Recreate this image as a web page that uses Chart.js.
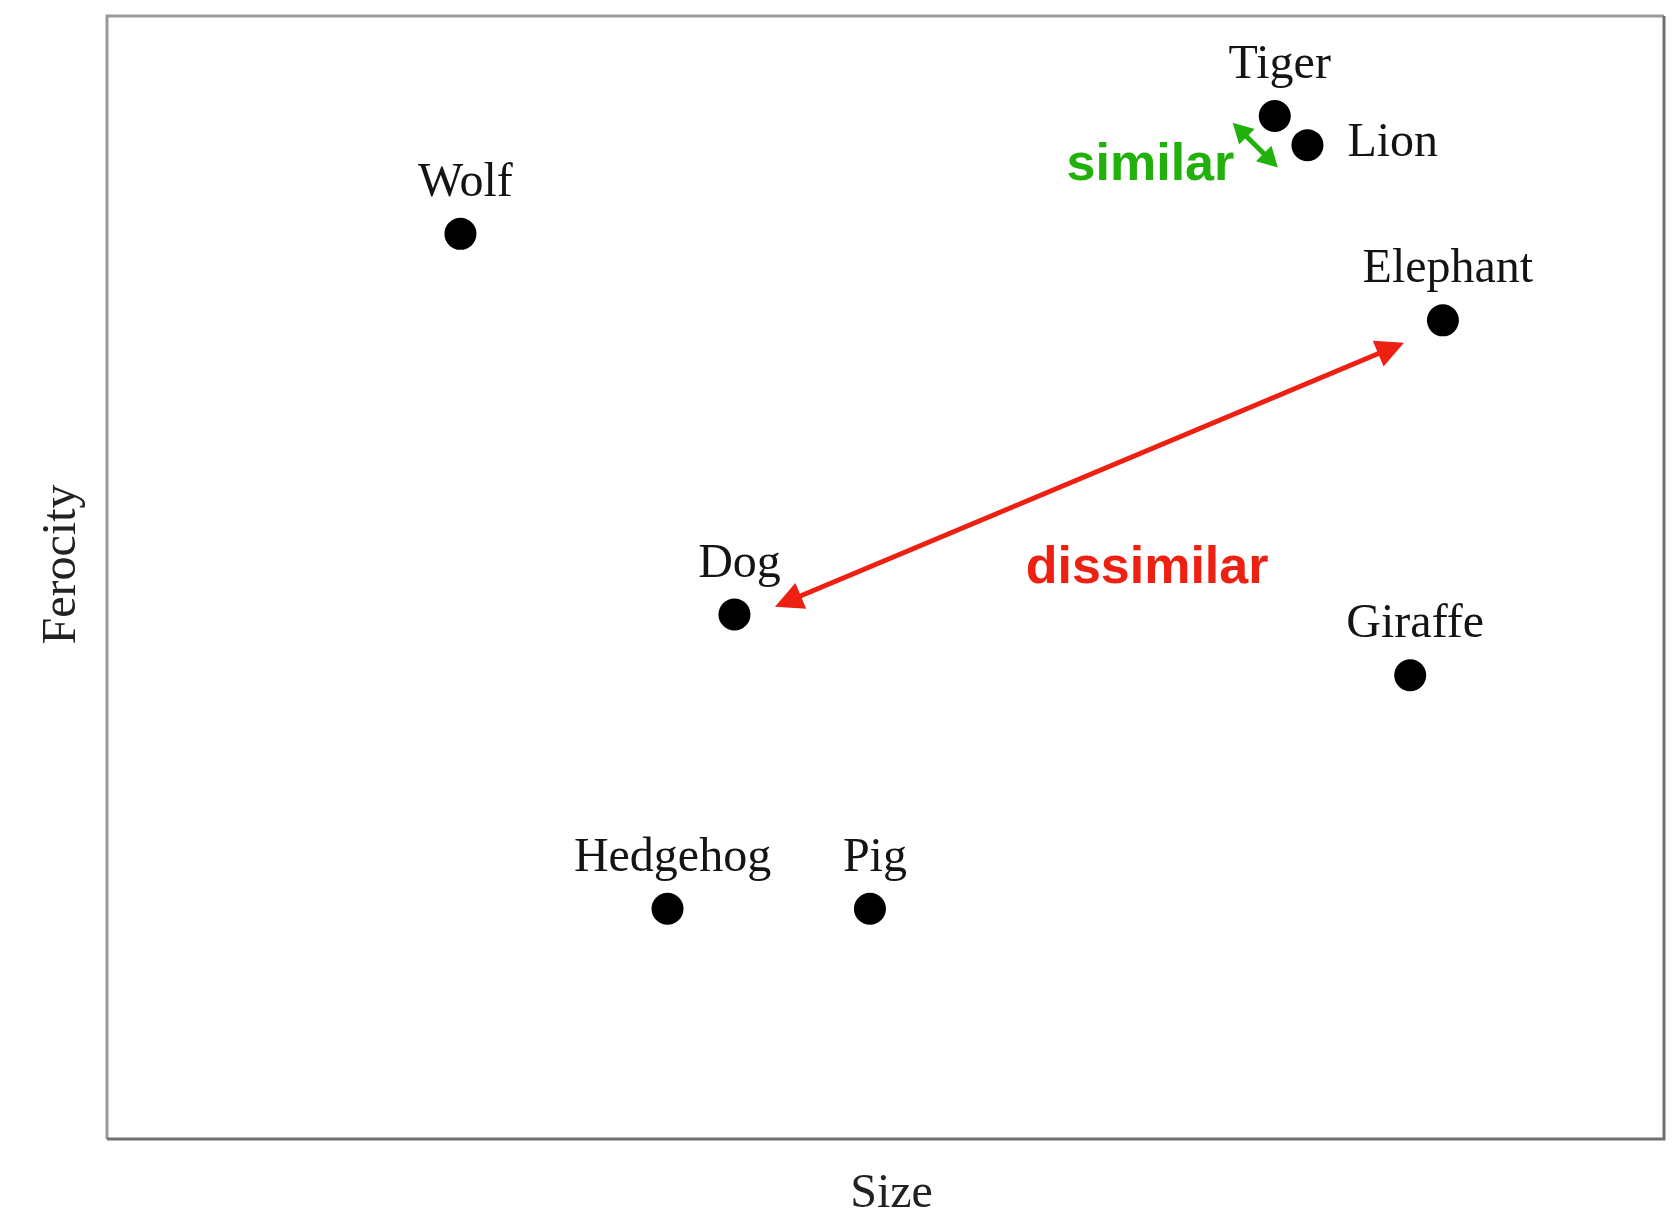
<!DOCTYPE html>
<html>
<head>
<meta charset="utf-8">
<script src="https://cdn.jsdelivr.net/npm/chart.js@4/dist/chart.umd.min.js"></script>
<style>
  html, body { margin: 0; padding: 0; background: #ffffff; }
  #wrap { width: 1680px; height: 1214px; }
</style>
</head>
<body>
<div id="wrap"><canvas id="chart" width="1680" height="1214"></canvas></div>
<script>
// Animals placed by size (x) and ferocity (y), both on a 0–100 scale
const animals   = ['Tiger', 'Lion', 'Wolf', 'Elephant', 'Dog', 'Giraffe', 'Hedgehog', 'Pig'];
const sizeVals  = [75.0, 77.1, 22.7, 85.8, 40.3, 83.7, 36.0, 49.0];
const ferocVals = [91.1, 88.5, 80.6, 72.9, 46.7, 41.3, 20.5, 20.5];
const labelSide = ['above', 'right', 'above', 'above', 'above', 'above', 'above', 'above'];

const axisTitleX = 'Size';
const axisTitleY = 'Ferocity';

// Comparison arrows, end points in data units
const similarArrow    = { from: [72.3, 90.5], to: [75.2, 86.5], text: 'similar',    textAt: [72.4, 85.4], color: '#22b00a' };
const dissimilarArrow = { from: [83.3, 70.9], to: [42.9, 47.4], text: 'dissimilar', textAt: [66.8, 49.5], color: '#ee2011' };

const points = sizeVals.map((x, i) => ({ x: x, y: ferocVals[i] }));

const SERIF = '"Liberation Serif", "DejaVu Serif", serif';
const SANS  = '"Liberation Sans", Arial, sans-serif';

function arrowHead(ctx, tx, ty, fx, fy, len, half) {
  const a = Math.atan2(ty - fy, tx - fx);
  ctx.beginPath();
  ctx.moveTo(tx, ty);
  ctx.lineTo(tx - len * Math.cos(a) + half * Math.sin(a), ty - len * Math.sin(a) - half * Math.cos(a));
  ctx.lineTo(tx - len * Math.cos(a) - half * Math.sin(a), ty - len * Math.sin(a) + half * Math.cos(a));
  ctx.closePath();
  ctx.fill();
}

// straight shaft with a filled head at both ends
function drawArrow(ctx, xs, ys, arr, width, len, half) {
  const fx = xs.getPixelForValue(arr.from[0]), fy = ys.getPixelForValue(arr.from[1]);
  const tx = xs.getPixelForValue(arr.to[0]),   ty = ys.getPixelForValue(arr.to[1]);
  const a = Math.atan2(ty - fy, tx - fx);
  ctx.save();
  ctx.strokeStyle = arr.color;
  ctx.fillStyle = arr.color;
  ctx.lineWidth = width;
  ctx.beginPath();
  ctx.moveTo(fx + len * 0.8 * Math.cos(a), fy + len * 0.8 * Math.sin(a));
  ctx.lineTo(tx - len * 0.8 * Math.cos(a), ty - len * 0.8 * Math.sin(a));
  ctx.stroke();
  arrowHead(ctx, tx, ty, fx, fy, len, half);
  arrowHead(ctx, fx, fy, tx, ty, len, half);
  ctx.restore();
}

const decorations = {
  id: 'decorations',
  beforeDatasetsDraw(chart) {
    const { ctx, chartArea: ca } = chart;
    ctx.save();
    // plot frame
    ctx.lineWidth = 3;
    ctx.strokeStyle = '#999999';
    ctx.beginPath();
    ctx.moveTo(ca.left, ca.bottom);
    ctx.lineTo(ca.left, ca.top);
    ctx.lineTo(ca.right, ca.top);
    ctx.stroke();
    ctx.strokeStyle = '#707070';
    ctx.beginPath();
    ctx.moveTo(ca.right, ca.top);
    ctx.lineTo(ca.right, ca.bottom);
    ctx.lineTo(ca.left, ca.bottom);
    ctx.stroke();
    // axis titles
    ctx.fillStyle = '#222222';
    ctx.font = '48px ' + SERIF;
    ctx.textAlign = 'center';
    ctx.textBaseline = 'alphabetic';
    ctx.fillText(axisTitleX, (ca.left + ca.right) / 2 + 6, ca.bottom + 68);
    ctx.translate(75, (ca.top + ca.bottom) / 2 - 13);
    ctx.rotate(-Math.PI / 2);
    ctx.fillText(axisTitleY, 0, 0);
    ctx.restore();
  },
  afterDatasetsDraw(chart) {
    const { ctx } = chart;
    const xs = chart.scales.x, ys = chart.scales.y;
    ctx.save();
    // point labels
    ctx.fillStyle = '#141414';
    ctx.font = '48px ' + SERIF;
    ctx.textBaseline = 'alphabetic';
    points.forEach((p, i) => {
      const px = xs.getPixelForValue(p.x), py = ys.getPixelForValue(p.y);
      if (labelSide[i] === 'right') {
        ctx.textAlign = 'left';
        ctx.fillText(animals[i], px + 40, py + 11);
      } else {
        ctx.textAlign = 'center';
        ctx.fillText(animals[i], px + 5, py - 38);
      }
    });
    // comparison arrows
    drawArrow(ctx, xs, ys, dissimilarArrow, 5, 28, 14);
    drawArrow(ctx, xs, ys, similarArrow, 5, 20, 11);
    // arrow captions
    ctx.font = 'bold 52px ' + SANS;
    ctx.fillStyle = similarArrow.color;
    ctx.textAlign = 'right';
    ctx.fillText(similarArrow.text, xs.getPixelForValue(similarArrow.textAt[0]), ys.getPixelForValue(similarArrow.textAt[1]));
    ctx.fillStyle = dissimilarArrow.color;
    ctx.textAlign = 'center';
    ctx.fillText(dissimilarArrow.text, xs.getPixelForValue(dissimilarArrow.textAt[0]), ys.getPixelForValue(dissimilarArrow.textAt[1]));
    ctx.restore();
  }
};

new Chart(document.getElementById('chart'), {
  type: 'scatter',
  data: {
    datasets: [{
      label: 'Animals',
      data: points,
      pointRadius: 16,
      pointHoverRadius: 16,
      pointBackgroundColor: '#000000',
      pointBorderColor: '#000000',
      pointBorderWidth: 0
    }]
  },
  options: {
    responsive: false,
    animation: false,
    devicePixelRatio: 1,
    layout: { padding: { left: 107, top: 13, right: 13, bottom: 75 } },
    plugins: { legend: { display: false }, tooltip: { enabled: false } },
    scales: {
      x: { type: 'linear', min: 0, max: 100, display: false },
      y: { type: 'linear', min: 0, max: 100, display: false }
    }
  },
  plugins: [decorations]
});
</script>
</body>
</html>
